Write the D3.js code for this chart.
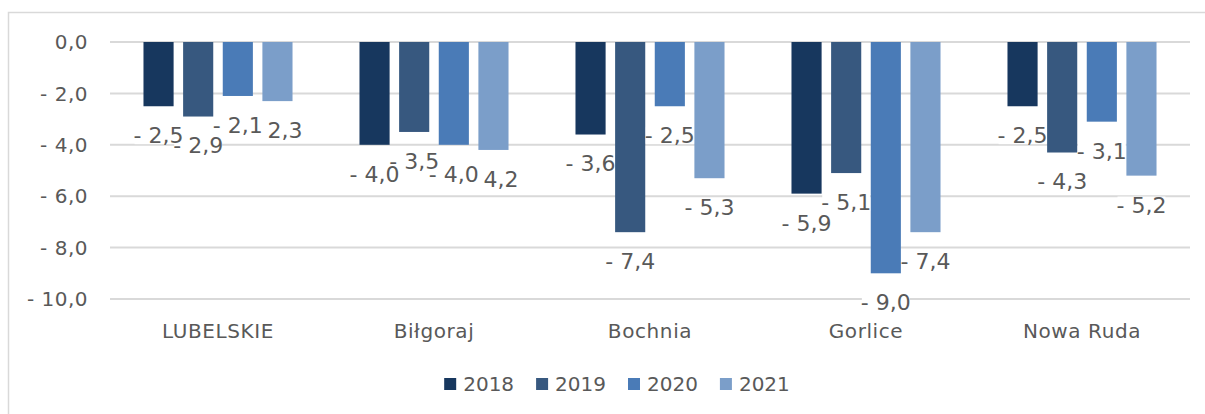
<!DOCTYPE html>
<html>
<head>
<meta charset="utf-8">
<script src="https://cdn.jsdelivr.net/npm/d3@7"></script>
<style>
  body { margin: 0; background: #fff; }
  svg { display: block; font-family: "DejaVu Sans", sans-serif; }
  .tick-label, .cat-label, .legend-label, .value-label { fill: #595959; }
</style>
</head>
<body>
<svg width="1205" height="414"></svg>
<script>
"use strict"

const categories = ["LUBELSKIE", "Biłgoraj", "Bochnia", "Gorlice", "Nowa Ruda"]
const years = ["2018", "2019", "2020", "2021"]
const values2018 = [-2.5, -4.0, -3.6, -5.9, -2.5]
const values2019 = [-2.9, -3.5, -7.4, -5.1, -4.3]
const values2020 = [-2.1, -4.0, -2.5, -9.0, -3.1]
const values2021 = [-2.3, -4.2, -5.3, -7.4, -5.2]
const yTicks = [0, -2, -4, -6, -8, -10]
const colors = ["#17375e", "#37587f", "#4a7bb7", "#7b9ec9"]

const series = [values2018, values2019, values2020, values2021]

let svg = d3.select("svg"),
    width = +svg.attr("width"),
    height = +svg.attr("height")

// chart frame (runs off the right and bottom edge like the original)
svg.append("rect")
  .attr("x", 8.5).attr("y", 12.5)
  .attr("width", width + 10).attr("height", height + 10)
  .attr("fill", "none").attr("stroke", "#d9d9d9").attr("stroke-width", 1.5)

const plotLeft = 110, plotRight = 1190

let x = d3.scaleBand()
  .domain(categories)
  .range([plotLeft, plotRight])
  .paddingInner(0.31)
  .paddingOuter(0.155)

let xSub = d3.scaleBand()
  .domain(years)
  .range([0, x.bandwidth()])
  .paddingInner(0.24)

let y = d3.scaleLinear()
  .domain([-10, 0])
  .range([299, 42])

let color = d3.scaleOrdinal().domain(years).range(colors)

const fmt = v => (v < 0 ? "- " : "") + d3.format(".1f")(Math.abs(v)).replace(".", ",")

// gridlines + y labels
svg.append("g")
  .selectAll("line")
  .data(yTicks)
  .enter().append("line")
    .attr("x1", plotLeft).attr("x2", plotRight)
    .attr("y1", d => y(d)).attr("y2", d => y(d))
    .attr("stroke", "#d9d9d9").attr("stroke-width", 2)

svg.append("g")
  .selectAll("text")
  .data(yTicks)
  .enter().append("text")
    .attr("class", "tick-label")
    .attr("x", 88)
    .attr("y", d => y(d))
    .attr("dy", "0.36em")
    .attr("text-anchor", "end")
    .style("font-size", "20px")
    .style("letter-spacing", "0.5px")
    .text(fmt)

// bars
let rows = []
categories.forEach((c, i) => {
  years.forEach((yr, j) => rows.push({cat: c, year: yr, value: series[j][i], s: j}))
})

svg.append("g")
  .selectAll("rect")
  .data(rows)
  .enter().append("rect")
    .attr("x", d => x(d.cat) + xSub(d.year))
    .attr("y", y(0))
    .attr("width", xSub.bandwidth())
    .attr("height", d => y(d.value) - y(0))
    .attr("fill", d => color(d.year))

// value labels, later series drawn first so earlier ones sit on top
let labelG = svg.append("g")
rows.slice().sort((a, b) => b.s - a.s).forEach(d => {
  let g = labelG.append("g")
    .attr("transform", "translate(" + (x(d.cat) + xSub(d.year) + xSub.bandwidth() / 2) + "," + (y(d.value) + 29) + ")")
  let bg = g.append("rect").attr("fill", "#fff")
  let t = g.append("text")
    .attr("class", "value-label")
    .attr("text-anchor", "middle")
    .attr("dy", "0.36em")
    .style("font-size", "22px")
    .text(fmt(d.value))
  let bb = t.node().getBBox()
  bg.attr("x", bb.x + 1).attr("y", bb.y + 4).attr("width", bb.width - 2).attr("height", bb.height - 8)
})

// category labels
svg.append("g")
  .selectAll("text")
  .data(categories)
  .enter().append("text")
    .attr("class", "cat-label")
    .attr("x", d => x(d) + x.bandwidth() / 2)
    .attr("y", 331)
    .attr("dy", "0.36em")
    .attr("text-anchor", "middle")
    .style("font-size", "20px")
    .style("letter-spacing", "0.6px")
    .text(d => d)

// legend
let legend = svg.append("g")
let lx = 0
years.forEach(yr => {
  let g = legend.append("g")
  g.append("rect")
    .attr("width", 12).attr("height", 12)
    .attr("y", -6)
    .attr("fill", color(yr))
  let t = g.append("text")
    .attr("class", "legend-label")
    .attr("x", 19)
    .attr("dy", "0.36em")
    .style("font-size", "20px")
    .text(yr)
  let w = 19 + t.node().getComputedTextLength()
  g.attr("transform", "translate(" + lx + ",0)")
  lx += w + 22
})
legend.attr("transform", "translate(" + (617 - (lx - 22) / 2) + ",384)")
</script>
</body>
</html>
